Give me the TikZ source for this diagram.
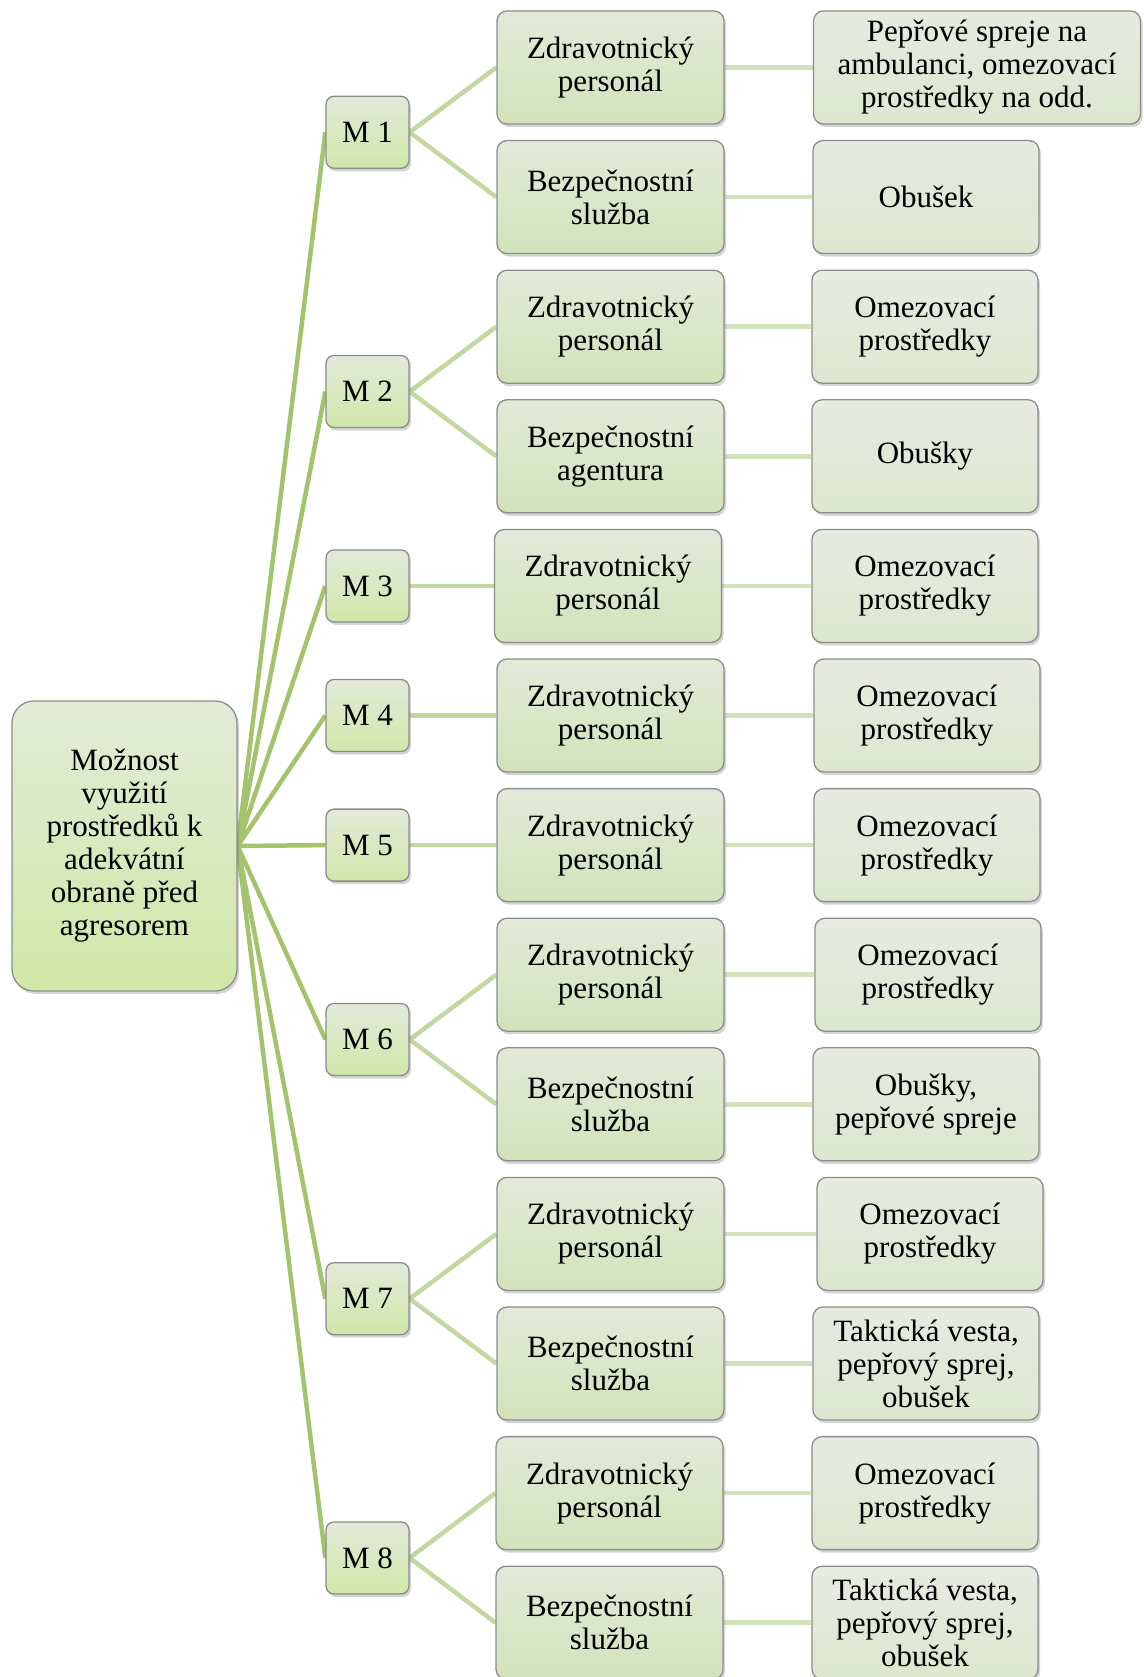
\documentclass[tikz,border=0pt]{standalone}
\usepackage{fontspec}
\setmainfont{Liberation Serif}
\usetikzlibrary{shadows}
\pgfdeclarelayer{background}
\pgfsetlayers{background,main}

\definecolor{rootTop}{HTML}{E3EBD8}
\definecolor{rootBot}{HTML}{CFE8A6}
\definecolor{midTop}{HTML}{E3E9D9}
\definecolor{midBot}{HTML}{D2E3BA}
\definecolor{leafTop}{HTML}{E7EBE0}
\definecolor{leafBot}{HTML}{DDE7CF}
\definecolor{frameGray}{HTML}{8C8C8C}
\definecolor{trunkGreen}{HTML}{A3C36D}
\definecolor{branchGreen}{HTML}{C3D7A1}
\definecolor{twigGreen}{HTML}{D3E1BD}

\tikzset{
  box/.style={draw=frameGray, line width=1.3pt, align=center, inner sep=0pt,
    font=\fontsize{31}{33}\selectfont,
    drop shadow={shadow xshift=2pt, shadow yshift=-3pt, opacity=0.28, fill=black!60}},
  rootbox/.style={box, rounded corners=22pt, top color=rootTop, bottom color=rootBot,
    minimum width=225pt, minimum height=290pt},
  mbox/.style={box, rounded corners=8pt, top color=midTop, bottom color=rootBot!85!midBot,
    minimum width=83pt, minimum height=72pt},
  midbox/.style={box, rounded corners=10pt, top color=midTop, bottom color=midBot,
    minimum width=227pt, minimum height=113pt},
  leafbox/.style={box, rounded corners=10pt, top color=leafTop, bottom color=leafBot,
    minimum width=226pt, minimum height=113pt},
  trunk/.style={draw=trunkGreen, line width=4.5pt},
  branch/.style={draw=branchGreen, line width=4.5pt},
  twig/.style={draw=twigGreen, line width=4.5pt},
}

\begin{document}
\begin{tikzpicture}[x=1pt,y=-1pt]
\useasboundingbox (0,0) rectangle (1143,1677);

% root
\node[rootbox] (root) at (124.5,846) {Možnost\\využití\\prostředků k\\adekvátní\\obraně před\\agresorem};

% first level
\node[mbox] (m1) at (367.5,132.3)  {M 1};
\node[mbox] (m2) at (367.5,391.5)  {M 2};
\node[mbox] (m3) at (367.5,585.9)  {M 3};
\node[mbox] (m4) at (367.5,715.5)  {M 4};
\node[mbox] (m5) at (367.5,845.1)  {M 5};
\node[mbox] (m6) at (367.5,1039.5) {M 6};
\node[mbox] (m7) at (367.5,1298.7) {M 7};
\node[mbox] (m8) at (367.5,1557.9) {M 8};

% second level (rows at pitch 129.6)
\node[midbox] (z1) at (610.5,67.5)   {Zdravotnický\\personál};
\node[midbox] (b1) at (610.5,197.1)  {Bezpečnostní\\služba};
\node[midbox] (z2) at (610.5,326.7)  {Zdravotnický\\personál};
\node[midbox] (b2) at (610.5,456.3)  {Bezpečnostní\\agentura};
\node[midbox] (z3) at (608,585.9)    {Zdravotnický\\personál};
\node[midbox] (z4) at (610.5,715.5)  {Zdravotnický\\personál};
\node[midbox] (z5) at (610.5,845.1)  {Zdravotnický\\personál};
\node[midbox] (z6) at (610.5,974.7)  {Zdravotnický\\personál};
\node[midbox] (b6) at (610.5,1104.3) {Bezpečnostní\\služba};
\node[midbox] (z7) at (610.5,1233.9) {Zdravotnický\\personál};
\node[midbox] (b7) at (610.5,1363.5) {Bezpečnostní\\služba};
\node[midbox] (z8) at (609.5,1493.1) {Zdravotnický\\personál};
\node[midbox] (b8) at (609.5,1622.7) {Bezpečnostní\\služba};

% third level
\node[leafbox, minimum width=327pt] (r1) at (977,67.5) {Pepřové spreje na\\ambulanci, omezovací\\prostředky na odd.};
\node[leafbox] (s1) at (926,197.1)  {Obušek};
\node[leafbox] (r2) at (925,326.7)  {Omezovací\\prostředky};
\node[leafbox] (s2) at (925,456.3)  {Obušky};
\node[leafbox] (r3) at (925,585.9)  {Omezovací\\prostředky};
\node[leafbox] (r4) at (927,715.5)  {Omezovací\\prostředky};
\node[leafbox] (r5) at (927,845.1)  {Omezovací\\prostředky};
\node[leafbox] (r6) at (928,974.7)  {Omezovací\\prostředky};
\node[leafbox] (s6) at (926,1104.3) {Obušky,\\pepřové spreje};
\node[leafbox] (r7) at (930,1233.9) {Omezovací\\prostředky};
\node[leafbox] (s7) at (926,1363.5) {Taktická vesta,\\pepřový sprej,\\obušek};
\node[leafbox] (r8) at (925,1493.1) {Omezovací\\prostředky};
\node[leafbox] (s8) at (925,1622.7) {Taktická vesta,\\pepřový sprej,\\obušek};

% connectors behind the boxes
\begin{pgfonlayer}{background}
  \foreach \m in {m1,m2,m3,m4,m5,m6,m7,m8}
    \draw[trunk] (root.east) -- (\m.west);
  \foreach \m/\c in {m1/z1,m1/b1,m2/z2,m2/b2,m3/z3,m4/z4,m5/z5,m6/z6,m6/b6,m7/z7,m7/b7,m8/z8,m8/b8}
    \draw[branch] (\m.east) -- (\c.west);
  \foreach \c/\l in {z1/r1,b1/s1,z2/r2,b2/s2,z3/r3,z4/r4,z5/r5,z6/r6,b6/s6,z7/r7,b7/s7,z8/r8,b8/s8}
    \draw[twig] (\c.east) -- (\l.west);
\end{pgfonlayer}
\end{tikzpicture}
\end{document}
